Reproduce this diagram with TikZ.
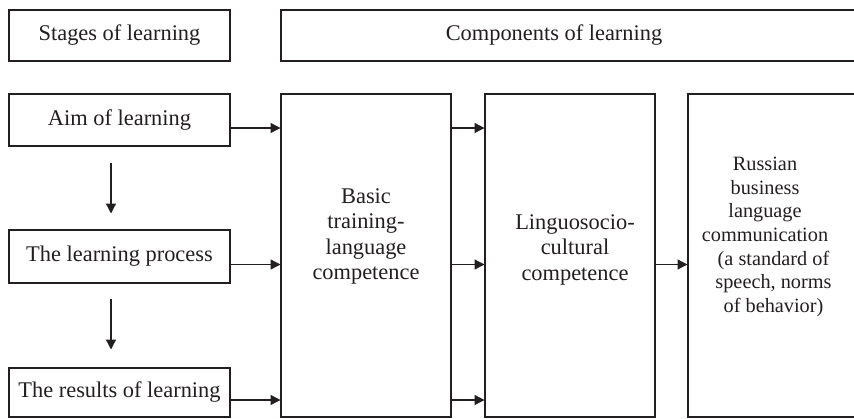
\documentclass[tikz,border=0pt]{standalone}
\usepackage{fontspec}
\setmainfont{Liberation Serif}
\usetikzlibrary{arrows.meta}
\definecolor{ink}{RGB}{35,31,32}
\tikzset{
  box/.style={draw=ink, line width=2pt, fill=white, inner sep=0pt},
  label text/.style={text=ink, inner sep=0pt, font=\fontsize{22.4}{25.5}\selectfont},
  small text/.style={text=ink, inner sep=0pt, font=\fontsize{20.3}{23.6}\selectfont},
  arr/.style={draw=ink, line width=1.3pt, -{Triangle[length=10pt,width=10pt]}, shorten >=-0.5pt},
}
\begin{document}
\begin{tikzpicture}[x=1pt, y=-1pt]
  \useasboundingbox (0,0) rectangle (854,418);

  % header row
  \node[box, minimum width=221pt, minimum height=51pt] (stages) at (119.5,35.5) {};
  \node[label text] (stagestext) at (stages.center) {Stages of learning};
  \node[box, minimum width=599pt, minimum height=51pt] (comps) at (580.5,35.5) {};
  \node[label text] (compstext) at (554,35.5) {Components of learning};

  % stages column
  \node[box, minimum width=221pt, minimum height=52pt] (aim) at (119.5,120) {};
  \node[label text] (aimtext) at (aim.center) {Aim of learning};
  \node[box, minimum width=221pt, minimum height=53pt] (proc) at (119.5,256.5) {};
  \node[label text] (proctext) at (proc.center) {The learning process};
  \node[box, minimum width=221pt, minimum height=49pt] (res) at (119.5,392.5) {};
  \node[label text] (restext) at (res.center) {The results of learning};

  % component boxes
  \node[box, minimum width=170pt, minimum height=323pt] (basic) at (366,255.5) {};
  \node[label text, align=center] (basictext) at (366,236.5) {Basic\\training-\\language\\competence};
  \node[box, minimum width=170pt, minimum height=323pt] (ling) at (570,255.5) {};
  \node[label text, align=center] (lingtext) at (575,249.5) {Linguosocio-\\cultural\\competence};
  \node[box, minimum width=192pt, minimum height=323pt] (rus) at (784,255.5) {};
  \node[small text, align=center] (rustext) at (765,237) {Russian\\business\\language\\communication\\\hspace*{17pt}(a standard of\\\hspace*{17pt}speech, norms\\\hspace*{17pt}of behavior)};

  % vertical flow between stages
  \coordinate (d1s) at (111,163);
  \coordinate (d1e) at (111,213);
  \coordinate (d2s) at (111,299);
  \coordinate (d2e) at (111,349);
  \draw[arr] (d1s) -- (d1e);
  \draw[arr] (d2s) -- (d2e);

  % horizontal flow
  \coordinate (a1) at ([yshift=-8pt]aim.east);
  \coordinate (a2) at ([yshift=-8pt]proc.east);
  \coordinate (a3) at ([yshift=-7.5pt]res.east);
  \draw[arr] (a1) -- (a1 -| basic.west);
  \draw[arr] (a2) -- (a2 -| basic.west);
  \draw[arr] (a3) -- (a3 -| basic.west);
  \draw[arr] (a1 -| basic.east) -- (a1 -| ling.west);
  \draw[arr] (a2 -| basic.east) -- (a2 -| ling.west);
  \draw[arr] (a3 -| basic.east) -- (a3 -| ling.west);
  \draw[arr] (a2 -| ling.east) -- (a2 -| rus.west);
\end{tikzpicture}
\end{document}
